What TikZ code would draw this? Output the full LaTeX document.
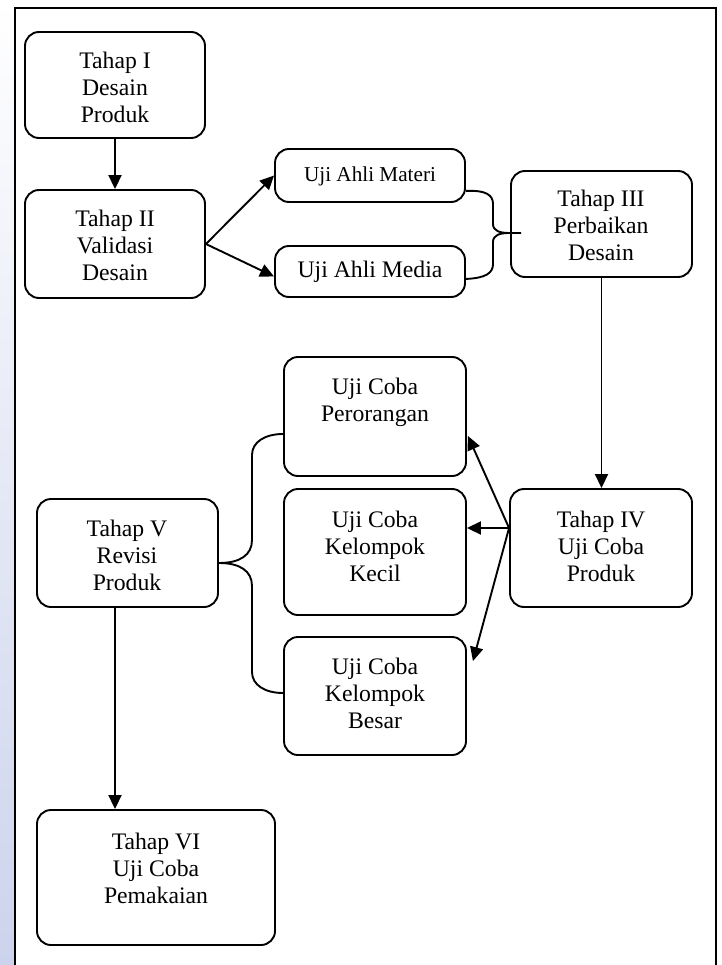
\documentclass[tikz,border=0pt]{standalone}
\usepackage{fontspec}
\setmainfont{Liberation Serif}
\usetikzlibrary{arrows.meta,fit,calc}
\definecolor{lav}{RGB}{204,211,236}
\begin{document}
\begin{tikzpicture}[x=1pt,y=-1pt,
  box/.style={draw, line width=1.9pt, rounded corners=14pt, inner sep=0pt},
  txt/.style={align=center, font=\fontsize{23.7}{27}\selectfont, anchor=base, inner sep=0pt},
  stxt/.style={align=center, font=\fontsize{21.2}{25}\selectfont, anchor=base, inner sep=0pt},
  arr/.style={line width=1.9pt, -{Triangle[length=14pt,width=13pt]}},
  conn/.style={line width=1.9pt}]
\useasboundingbox (0,0) rectangle (721,965);
\shade[top color=white, bottom color=lav] (0,0) rectangle (14,965);
\draw[line width=2.2pt] (15,965) -- (15,8) -- (716,8) -- (716,965);

% boxes
\node[box, fit={(25,32) (205,138)}] (b1) {};
\node[box, fit={(25,190) (205,298)}] (b2) {};
\node[box, fit={(275,149) (465,202)}] (materi) {};
\node[box, fit={(275,246) (465,297)}] (media) {};
\node[box, fit={(511,171) (692,277)}] (b3) {};
\node[box, fit={(510,489) (692,607)}] (b4) {};
\node[box, fit={(284,357) (466,476)}] (pero) {};
\node[box, fit={(284,489) (466,615)}] (kecil) {};
\node[box, fit={(284,637) (466,755)}] (besar) {};
\node[box, fit={(37,499) (218,607)}] (b5) {};
\node[box, fit={(37,810) (275,945)}] (b6) {};

% texts (anchor = baseline of last line)
\node[txt] (t1) at (115,123) {Tahap I\\Desain\\Produk};
\node[txt] (t2) at (115,280) {Tahap II\\Validasi\\Desain};
\node[stxt] (tmat) at (370,182) {Uji Ahli Materi};
\node[txt] (tmed) at (370,278) {Uji Ahli Media};
\node[txt] (t3) at (601,261) {Tahap III\\Perbaikan\\Desain};
\node[txt] (tpero) at (375,421) {Uji Coba\\Perorangan};
\node[txt] (tkec) at (375,581) {Uji Coba\\Kelompok\\Kecil};
\node[txt] (tbes) at (375,728) {Uji Coba\\Kelompok\\Besar};
\node[txt] (t4) at (601,581) {Tahap IV\\Uji Coba\\Produk};
\node[txt] (t5) at (127,590) {Tahap V\\Revisi\\Produk};
\node[txt] (t6) at (156,903) {Tahap VI\\Uji Coba\\Pemakaian};

% arrows
\draw[arr] (b1) -- (b2);
\draw[arr] (b2.east) -- (materi.west);
\draw[arr] (b2.east) -- ($(media.west)+(0,5)$);
\draw[arr] (b3.south) -- (b3.south |- b4.north);
\coordinate (s4) at ($(b4.west)+(0,-20)$);
\draw[arr] (s4) -- ($(pero.south east)+(1,-41)$);
\draw[arr] (s4) -- (kecil.east |- s4);
\draw[arr] (s4) -- ($(besar.north east)+(6,25)$);
\coordinate (s5) at (b5.south -| 115,0);
\draw[arr] (s5) -- (s5 |- b6.north);

% brace to Tahap III
\coordinate (ba) at ($(materi.south east)+(0,-12)$);
\coordinate (bb) at ($(media.south east)+(0,-19)$);
\coordinate (tipA) at ($(b3.west)+(-1,9)$);
\draw[conn] (ba) .. controls (486,190) and (493,195) .. (493,204) -- (493,224)
  .. controls (493,231) and (500,233) .. (tipA) -- ++(12,0);
\draw[conn] (bb) .. controls (486,278) and (493,273) .. (493,264) -- (493,242)
  .. controls (493,235) and (500,233) .. (tipA);

% brace from Tahap V
\coordinate (tipB) at ($(b5.east)+(0,10)$);
\draw[conn] (tipB) .. controls (240,563) and (252,555) .. (252,540) -- (252,455)
  .. controls (252,442) and (265,434) .. ($(pero.west)+(0,17.5)$);
\draw[conn] (tipB) .. controls (240,563) and (252,571) .. (252,586) -- (252,672)
  .. controls (252,685) and (265,693) .. ($(besar.west)+(0,-3)$);
\end{tikzpicture}
\end{document}
